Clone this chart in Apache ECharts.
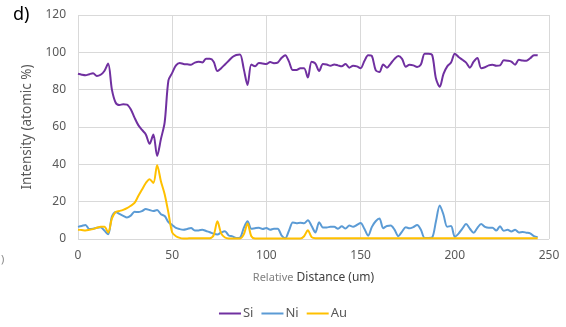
<!DOCTYPE html>
<html>
<head>
<meta charset="utf-8">
<script src="https://cdn.jsdelivr.net/npm/echarts@6/dist/echarts.min.js"></script>
<style>
  html, body { margin: 0; padding: 0; background: #fff; }
  #chart { width: 566px; height: 327px; }
</style>
</head>
<body>
<div id="chart"></div>
<script>
// distance (um), one point every 2 um
var distance = [];
for (var i = 0; i <= 122; i++) distance.push(i * 2);

var si = [88.5, 88, 87.7, 88.3, 88.8, 87.3, 88, 90, 94, 80,
  73, 71.8, 72.2, 72, 69.5, 65, 61, 58.4, 56, 51,
  56, 44.5, 53.5, 62.5, 85, 89, 93, 94.3, 93.8, 93.6,
  93.4, 94.5, 95, 94.6, 96.5, 96.5, 95, 90, 91.5, 93.5,
  95.5, 97.5, 98.6, 98.9, 91, 82.5, 93.5, 92.5, 94.3, 94,
  93.7, 94.8, 94.2, 94.5, 97, 98.5, 95, 90.5, 90.5, 91.5,
  91.5, 86.5, 95, 94, 90, 93.8, 93.5, 92.8, 93.5, 93,
  92.5, 93.8, 91.8, 92.8, 92.5, 91.5, 95.3, 98.5, 98, 90.5,
  89.5, 93.5, 91.8, 94, 96.5, 98, 96.5, 92.3, 93.3, 93,
  92.2, 93.5, 99.3, 99.3, 98.5, 86, 81.5, 88.5, 92.5, 94.5,
  99.3, 97.5, 96, 94.5, 91.8, 95, 97, 91.5, 92, 93,
  93.3, 92.8, 93, 95.7, 95.5, 95, 93.4, 96, 95.6, 95.5,
  96.8, 98.5, 98.4];

var ni = [6.5, 7, 7.5, 5.3, 5.5, 6, 6.3, 4.5, 2.5, 12,
  14.5, 13.4, 12.4, 11.5, 12.5, 14.6, 14.4, 15, 16.1, 15.5,
  15, 15.5, 13.3, 12.3, 9, 7.5, 5.9, 5.3, 5, 5.4,
  5.9, 4.6, 4.6, 5, 4.3, 3.6, 2.8, 2.4, 3.5, 4.2,
  1.9, 1.4, 0.6, 0.8, 6, 9.5, 5.5, 5.8, 6, 5.4,
  5.9, 5, 5.5, 5.5, 2, 0.4, 4.5, 8.8, 8.5, 8.7,
  8.5, 10, 7, 3.5, 9, 6.2, 6.2, 6.5, 6.5, 5.5,
  6.8, 5.6, 7.2, 6.6, 7.5, 8.6, 5.5, 1.8, 6.5, 9.5,
  11, 5.8, 7, 7.2, 5, 1.5, 4, 6.3, 5.7, 6.4,
  7.5, 5, 0.6, 0.6, 0.9, 9.5, 18, 13, 6.5, 7,
  1.2, 2.9, 5.5, 8, 5.5, 3.3, 6, 8, 6.5, 6,
  6, 4.5, 6.8, 4.4, 4.9, 4, 5, 3.5, 3.8, 3.4,
  3, 1.5, 1];

var au = [5, 4.8, 4.6, 4.9, 5.3, 6, 6.5, 6.5, 3.5, 11,
  14.5, 15, 15.6, 16.5, 17.8, 19.3, 23, 26.5, 30, 32,
  30, 39.5, 31, 24, 14, 3.5, 1.5, 0.6, 0.3, 0.3,
  0.4, 0.4, 0.4, 0.4, 0.4, 0.4, 2, 9.5, 3, 0.8,
  0.3, 0.3, 0.3, 0.3, 2.5, 8.3, 1.5, 0.3, 0.3, 0.3,
  0.3, 0.3, 0.3, 0.3, 0.3, 0.3, 0.3, 0.3, 0.3, 0.3,
  1.5, 4.7, 1, 0.4, 0.4, 0.4, 0.4, 0.4, 0.4, 0.4,
  0.4, 0.4, 0.4, 0.4, 0.4, 0.4, 0.4, 0.4, 0.4, 0.4,
  0.4, 0.4, 0.4, 0.4, 0.4, 0.4, 0.4, 0.4, 0.4, 0.4,
  0.4, 0.4, 0.4, 0.4, 0.4, 0.4, 0.4, 0.4, 0.4, 0.4,
  0.4, 0.4, 0.4, 0.4, 0.4, 0.4, 0.4, 0.4, 0.4, 0.4,
  0.4, 0.4, 0.4, 0.4, 0.4, 0.4, 0.4, 0.4, 0.4, 0.4,
  0.4, 0.4, 0.4];

var seriesNames = ['Si', 'Ni', 'Au'];
var colors = ['#7030a0', '#5b9bd5', '#ffc000'];

function pairs(vals) {
  return distance.map(function (d, i) { return [d, vals[i]]; });
}

var font = 'Noto Sans';
var myChart = echarts.init(document.getElementById('chart'));

var option = {
  animation: false,
  color: colors,
  textStyle: { fontFamily: font },
  grid: { left: 78, right: 17, top: 15, bottom: 88 },
  graphic: [
    { type: 'text', left: 13, top: 6, style: { text: 'd)', fontSize: 18, fill: '#000', fontFamily: font } },
    { type: 'text', left: 1, top: 254, style: { text: ')', fontSize: 11, fill: '#888', fontFamily: font } }
  ],
  legend: {
    data: seriesNames,
    bottom: 2,
    left: 'center',
    icon: 'rect',
    itemWidth: 22,
    itemHeight: 2,
    itemGap: 8,
    textStyle: { color: '#595959', fontSize: 13, fontFamily: font, padding: [0, 0, 0, -3] }
  },
  xAxis: {
    type: 'value',
    min: 0,
    max: 250,
    interval: 50,
    name: '{a|Relative} {b|Distance (um)}',
    nameLocation: 'middle',
    nameGap: 33,
    nameTextStyle: {
      rich: {
        a: { color: '#808080', fontSize: 11, fontFamily: font },
        b: { color: '#404040', fontSize: 12, fontFamily: font }
      }
    },
    axisLine: { show: false },
    axisTick: { show: false },
    axisLabel: { color: '#595959', fontSize: 12, margin: 11 },
    splitLine: { show: true, lineStyle: { color: '#d9d9d9' } }
  },
  yAxis: {
    type: 'value',
    min: 0,
    max: 120,
    interval: 20,
    name: 'Intensity (atomic %)',
    nameLocation: 'middle',
    nameGap: 38,
    nameTextStyle: { color: '#595959', fontSize: 13.5 },
    axisLine: { show: false },
    axisTick: { show: false },
    axisLabel: { color: '#595959', fontSize: 12, margin: 12 },
    splitLine: { show: true, lineStyle: { color: '#d9d9d9' } }
  },
  series: [
    { name: 'Si', type: 'line', data: pairs(si), showSymbol: false, smooth: 0.3, lineStyle: { width: 2 } },
    { name: 'Ni', type: 'line', data: pairs(ni), showSymbol: false, smooth: 0.3, lineStyle: { width: 2 } },
    { name: 'Au', type: 'line', data: pairs(au), showSymbol: false, smooth: 0.3, lineStyle: { width: 2 } }
  ]
};

myChart.setOption(option);
</script>
</body>
</html>
